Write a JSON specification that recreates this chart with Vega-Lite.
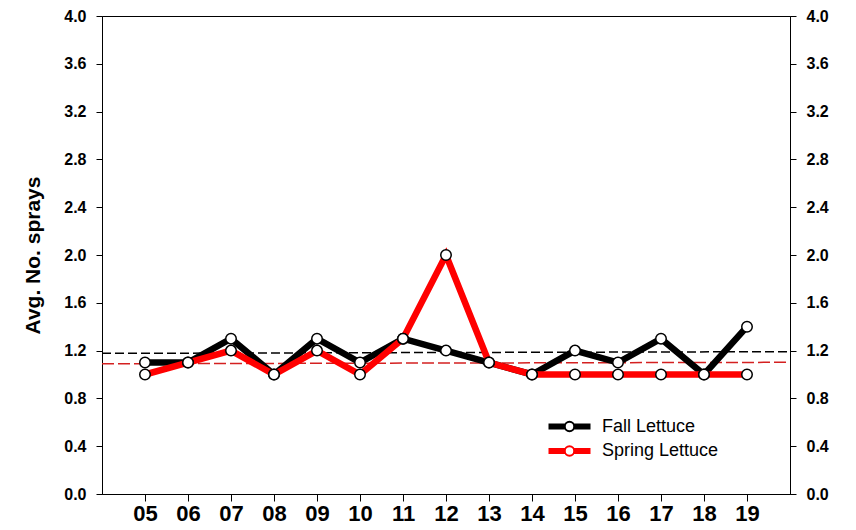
{
  "$schema": "https://vega.github.io/schema/vega-lite/v6.json",
  "width": 688,
  "height": 478,
  "autosize": {"type": "none"},
  "padding": {"left": 102, "top": 16, "right": 66, "bottom": 36},
  "background": "white",
  "config": {
    "view": {"stroke": "black", "strokeWidth": 1},
    "font": "Liberation Sans",
    "axis": {"grid": false, "domainColor": "black", "tickColor": "black", "labelColor": "black", "titleColor": "black", "domainWidth": 1, "tickWidth": 1}
  },
  "datasets": {
    "main": [
      {"year": 5, "series": "Fall Lettuce", "sprays": 1.1},
      {"year": 6, "series": "Fall Lettuce", "sprays": 1.1},
      {"year": 7, "series": "Fall Lettuce", "sprays": 1.3},
      {"year": 8, "series": "Fall Lettuce", "sprays": 1.0},
      {"year": 9, "series": "Fall Lettuce", "sprays": 1.3},
      {"year": 10, "series": "Fall Lettuce", "sprays": 1.1},
      {"year": 11, "series": "Fall Lettuce", "sprays": 1.3},
      {"year": 12, "series": "Fall Lettuce", "sprays": 1.2},
      {"year": 13, "series": "Fall Lettuce", "sprays": 1.1},
      {"year": 14, "series": "Fall Lettuce", "sprays": 1.0},
      {"year": 15, "series": "Fall Lettuce", "sprays": 1.2},
      {"year": 16, "series": "Fall Lettuce", "sprays": 1.1},
      {"year": 17, "series": "Fall Lettuce", "sprays": 1.3},
      {"year": 18, "series": "Fall Lettuce", "sprays": 1.0},
      {"year": 19, "series": "Fall Lettuce", "sprays": 1.4},
      {"year": 5, "series": "Spring Lettuce", "sprays": 1.0},
      {"year": 6, "series": "Spring Lettuce", "sprays": 1.1},
      {"year": 7, "series": "Spring Lettuce", "sprays": 1.2},
      {"year": 8, "series": "Spring Lettuce", "sprays": 1.0},
      {"year": 9, "series": "Spring Lettuce", "sprays": 1.2},
      {"year": 10, "series": "Spring Lettuce", "sprays": 1.0},
      {"year": 11, "series": "Spring Lettuce", "sprays": 1.3},
      {"year": 12, "series": "Spring Lettuce", "sprays": 2.0},
      {"year": 13, "series": "Spring Lettuce", "sprays": 1.1},
      {"year": 14, "series": "Spring Lettuce", "sprays": 1.0},
      {"year": 15, "series": "Spring Lettuce", "sprays": 1.0},
      {"year": 16, "series": "Spring Lettuce", "sprays": 1.0},
      {"year": 17, "series": "Spring Lettuce", "sprays": 1.0},
      {"year": 18, "series": "Spring Lettuce", "sprays": 1.0},
      {"year": 19, "series": "Spring Lettuce", "sprays": 1.0}
    ],
    "trend": [
      {"year": 4, "series": "Fall Lettuce", "sprays": 1.177},
      {"year": 20, "series": "Fall Lettuce", "sprays": 1.191},
      {"year": 4, "series": "Spring Lettuce", "sprays": 1.09},
      {"year": 20, "series": "Spring Lettuce", "sprays": 1.102}
    ]
  },
  "resolve": {"axis": {"y": "independent"}, "scale": {"y": "shared"}},
  "layer": [
    {
      "data": {"name": "trend"},
      "transform": [{"filter": "datum.series == 'Fall Lettuce'"}],
      "mark": {"type": "line", "color": "black", "strokeWidth": 1.5, "strokeDash": [9, 4]},
      "encoding": {
        "x": {"field": "year", "type": "quantitative", "scale": {"domain": [4, 20]}},
        "y": {"field": "sprays", "type": "quantitative", "scale": {"domain": [0, 4]}, "axis": null}
      }
    },
    {
      "data": {"name": "trend"},
      "transform": [{"filter": "datum.series == 'Spring Lettuce'"}],
      "mark": {"type": "line", "color": "#d42020", "strokeWidth": 1.5, "strokeDash": [12, 4]},
      "encoding": {
        "x": {"field": "year", "type": "quantitative", "scale": {"domain": [4, 20]}},
        "y": {"field": "sprays", "type": "quantitative", "scale": {"domain": [0, 4]}, "axis": null}
      }
    },
    {
      "data": {"name": "main"},
      "mark": {"type": "line", "strokeWidth": 6.5, "strokeJoin": "miter"},
      "encoding": {
        "x": {
          "field": "year", "type": "quantitative", "scale": {"domain": [4, 20]},
          "axis": {
            "title": null, "values": [5, 6, 7, 8, 9, 10, 11, 12, 13, 14, 15, 16, 17, 18, 19],
            "labelExpr": "datum.value < 10 ? '0' + datum.value : '' + datum.value",
            "labelFont": "Liberation Sans", "labelFontWeight": "bold", "labelFontSize": 22,
            "tickSize": 7, "labelPadding": 2, "labelFlush": false, "labelOverlap": false
          }
        },
        "y": {
          "field": "sprays", "type": "quantitative", "scale": {"domain": [0, 4]},
          "axis": {
            "orient": "left", "title": "Avg. No. sprays",
            "values": [0, 0.4, 0.8, 1.2, 1.6, 2.0, 2.4, 2.8, 3.2, 3.6, 4.0], "format": ".1f",
            "labelFont": "Liberation Sans", "labelFontWeight": "bold", "labelFontSize": 16,
            "tickSize": 6, "labelPadding": 10,
            "titleFont": "Liberation Sans", "titleFontWeight": "bold", "titleFontSize": 21,
            "titleX": -69, "titleY": 239, "titleBaseline": "middle", "titleAngle": 270, "titleAlign": "center"
          }
        },
        "color": {
          "field": "series", "type": "nominal",
          "scale": {"domain": ["Fall Lettuce", "Spring Lettuce"], "range": ["black", "#ff0000"]},
          "legend": {
            "title": null, "orient": "none", "legendX": 456, "legendY": 399,
            "symbolType": "M-2,-0.19H-0.45M-2,0H-0.45M-2,0.19H-0.45M0.45,-0.19H2M0.45,0H2M0.45,0.19H2M0.45,0A0.45,0.45 0 1 1 -0.45,0A0.45,0.45 0 1 1 0.45,0",
            "symbolSize": 441, "symbolStrokeWidth": 2, "symbolFillColor": "transparent",
            "labelFont": "Liberation Sans", "labelFontSize": 18, "labelColor": "black",
            "labelOffset": 21, "rowPadding": 3.5, "padding": 0
          }
        }
      }
    },
    {
      "data": {"name": "main"},
      "mark": {"type": "point", "shape": "circle", "filled": true, "fill": "white", "stroke": "black", "strokeWidth": 1.5, "size": 110, "opacity": 1},
      "encoding": {
        "x": {"field": "year", "type": "quantitative", "scale": {"domain": [4, 20]}},
        "y": {
          "field": "sprays", "type": "quantitative", "scale": {"domain": [0, 4]},
          "axis": {
            "orient": "right", "title": null,
            "values": [0, 0.4, 0.8, 1.2, 1.6, 2.0, 2.4, 2.8, 3.2, 3.6, 4.0], "format": ".1f",
            "labelFont": "Liberation Sans", "labelFontWeight": "bold", "labelFontSize": 16,
            "tickSize": 6, "labelPadding": 10
          }
        }
      }
    }
  ]
}
